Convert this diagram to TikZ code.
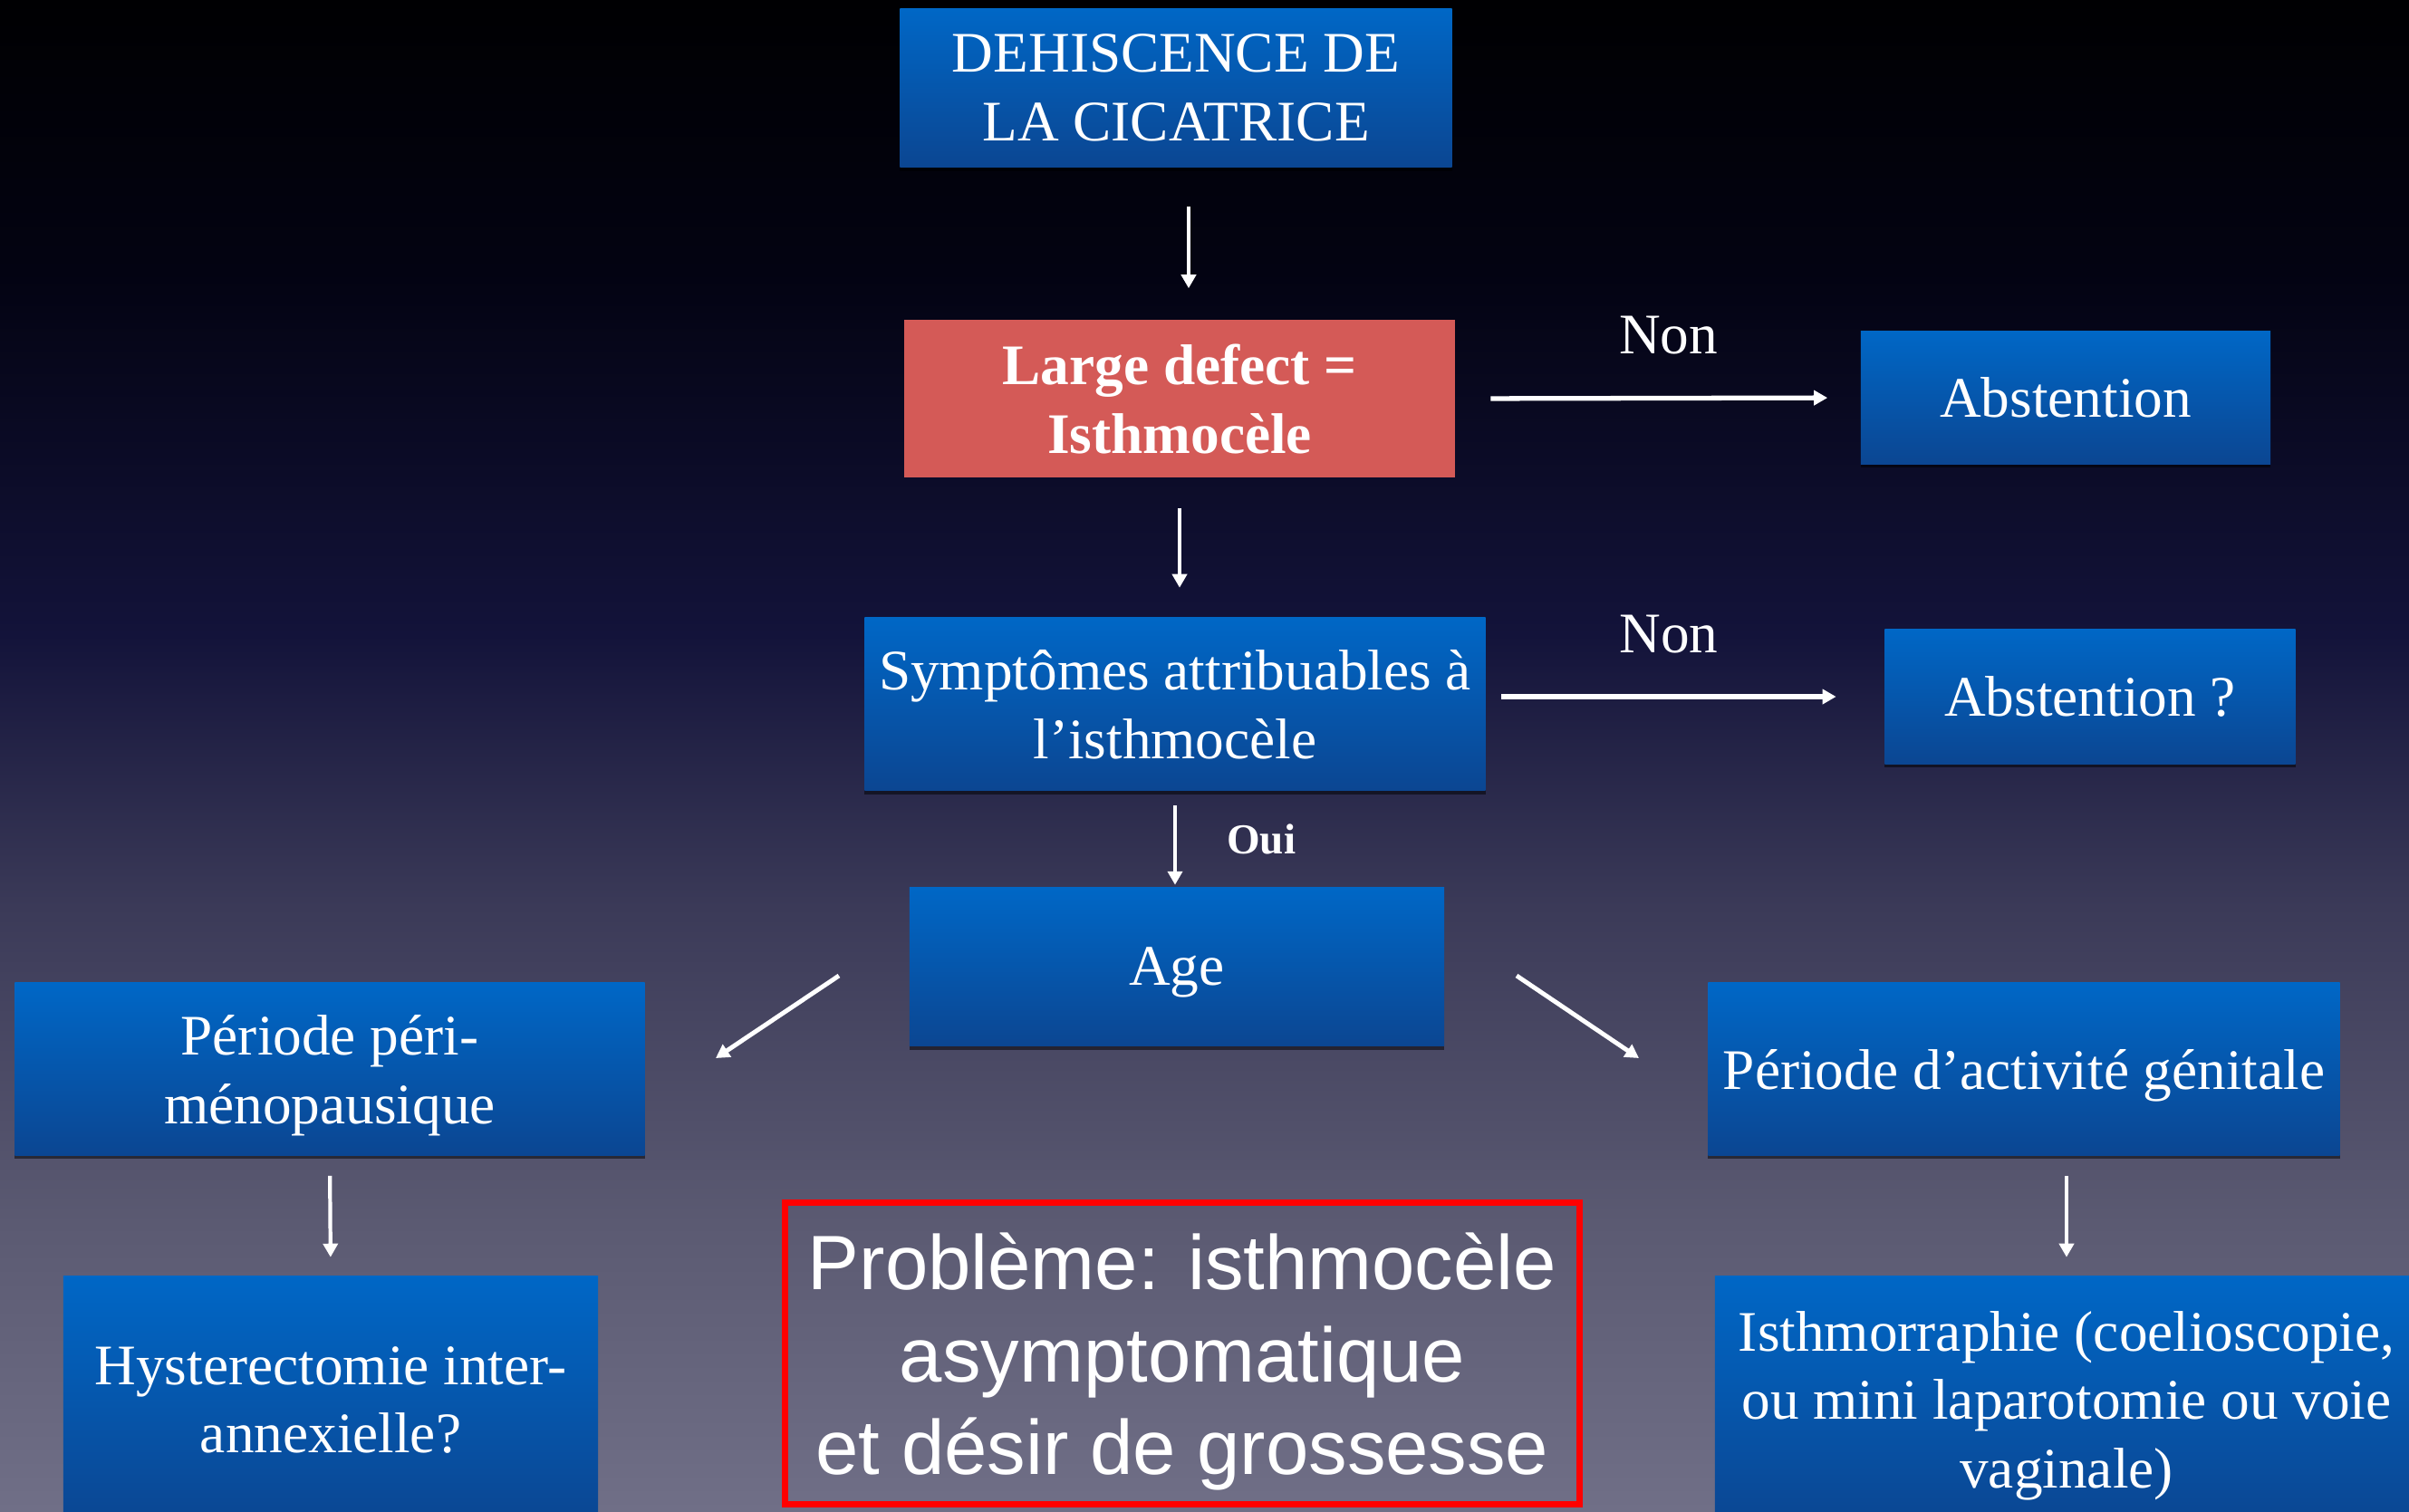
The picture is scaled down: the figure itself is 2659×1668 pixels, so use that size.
\documentclass[tikz,border=0pt]{standalone}
\usepackage{fontspec}
\setmainfont{Liberation Serif}
\newfontfamily\probfont{Liberation Sans}
\usetikzlibrary{arrows.meta,shadows}

\definecolor{bgtop}{HTML}{000002}
\definecolor{bgdark}{HTML}{030312}
\definecolor{bgnavy}{HTML}{13133A}
\definecolor{bgmid}{HTML}{3B3A58}
\definecolor{bglow}{HTML}{5B5A72}
\definecolor{bgbot}{HTML}{706F87}
\definecolor{boxtop}{HTML}{0067C6}
\definecolor{boxbot}{HTML}{0B4692}
\definecolor{defectred}{HTML}{D45A57}
\definecolor{probred}{HTML}{FF0000}

\pgfdeclareverticalshading{slidebg}{100bp}{color(0bp)=(bgbot); color(25bp)=(bgbot);
  color(34.5bp)=(bglow); color(45bp)=(bgmid); color(54bp)=(bgnavy);
  color(66bp)=(bgdark); color(75bp)=(bgtop); color(100bp)=(bgtop)}

\begin{document}
\begin{tikzpicture}[->,>={Triangle[length=0.15cm,width=0.16cm]},x=0.01cm,y=-0.01cm,
    every node/.style={text=white,align=center,inner sep=0pt,text depth=0pt},
    main node/.style={rectangle,top color=boxtop,bottom color=boxbot,
        drop shadow={shadow xshift=0pt,shadow yshift=-1.2pt,opacity=0.5,fill=black},
        font=\fontsize{18}{21.6}\selectfont},
    red node/.style={rectangle,fill=defectred,
        font=\fontsize{18}{21.6}\selectfont\bfseries},
    label node/.style={font=\fontsize{18}{21.6}\selectfont}]

\useasboundingbox (0,0) rectangle (2659,1668);
\shade[shading=slidebg] (0,0) rectangle (2659,1668);

\node[main node,minimum width=6.09cm,minimum height=1.75cm] (1) at (1298,97) {DEHISCENCE DE\\LA CICATRICE};
\node[red node,minimum width=6.07cm,minimum height=1.74cm] (2) at (1302,440) {Large defect =\\Isthmocèle};
\node[main node,minimum width=4.52cm,minimum height=1.46cm] (3) at (2280,439) {Abstention};
\node[main node,minimum width=6.85cm,minimum height=1.91cm] (4) at (1297,777) {Symptômes attribuables à\\l’isthmocèle};
\node[main node,minimum width=4.53cm,minimum height=1.48cm] (5) at (2307,769) {Abstention ?};
\node[main node,minimum width=5.90cm,minimum height=1.75cm] (6) at (1299,1067) {Age};
\node[main node,minimum width=6.95cm,minimum height=1.90cm] (7) at (364,1180) {Période péri-\\ménopausique};
\node[main node,minimum width=6.97cm,minimum height=1.90cm] (8) at (2234,1180) {Période d’activité génitale};
\node[main node,minimum width=5.90cm,minimum height=2.73cm] (9) at (365,1545) {Hysterectomie inter-\\annexielle?};
\node[main node,minimum width=7.76cm,minimum height=2.73cm] (10) at (2281,1545) {Isthmorraphie (coelioscopie,\\ou mini laparotomie ou voie\\vaginale)};
\node[draw=probred,line width=2pt,minimum width=8.76cm,minimum height=3.32cm,
    font=\fontsize{24.2}{29}\selectfont\probfont] (11) at (1305,1494) {Problème: isthmocèle\\asymptomatique\\et désir de grossesse};

\coordinate (l1) at (926,1077);
\coordinate (l2) at (790,1168);
\coordinate (r1) at (1674,1077);
\coordinate (r2) at (1809,1168);

\path[white,line width=1.2pt]
([xshift=0.14cm]1.south) edge[shorten <=0.43cm,shorten >=0.34cm] ([xshift=0.14cm]1.south |- 2.north)
(2.south) edge[shorten <=0.33cm,shorten >=0.32cm] (2.south |- 4.north)
(4.south) edge[shorten <=0.16cm,shorten >=0.02cm] node[right=0.55cm,font=\fontsize{13.4}{16}\selectfont\bfseries] {Oui} (4.south |- 6.north)
(2.east) edge[line width=1.5pt,shorten <=0.39cm,shorten >=0.36cm] node[above=0.46cm,xshift=0.12cm,label node] {Non} (3.west)
(4.east |- 5.west) edge[line width=1.5pt,shorten <=0.17cm,shorten >=0.53cm] node[above=0.46cm,xshift=-0.18cm,label node] {Non} (5.west)
(l1) edge[line width=1.4pt] (l2)
(r1) edge[line width=1.4pt] (r2)
(7.south) edge[shorten <=0.22cm,shorten >=0.20cm] (9.north)
(10.north |- 8.south) edge[shorten <=0.22cm,shorten >=0.20cm] (10.north)
;

\end{tikzpicture}
\end{document}
